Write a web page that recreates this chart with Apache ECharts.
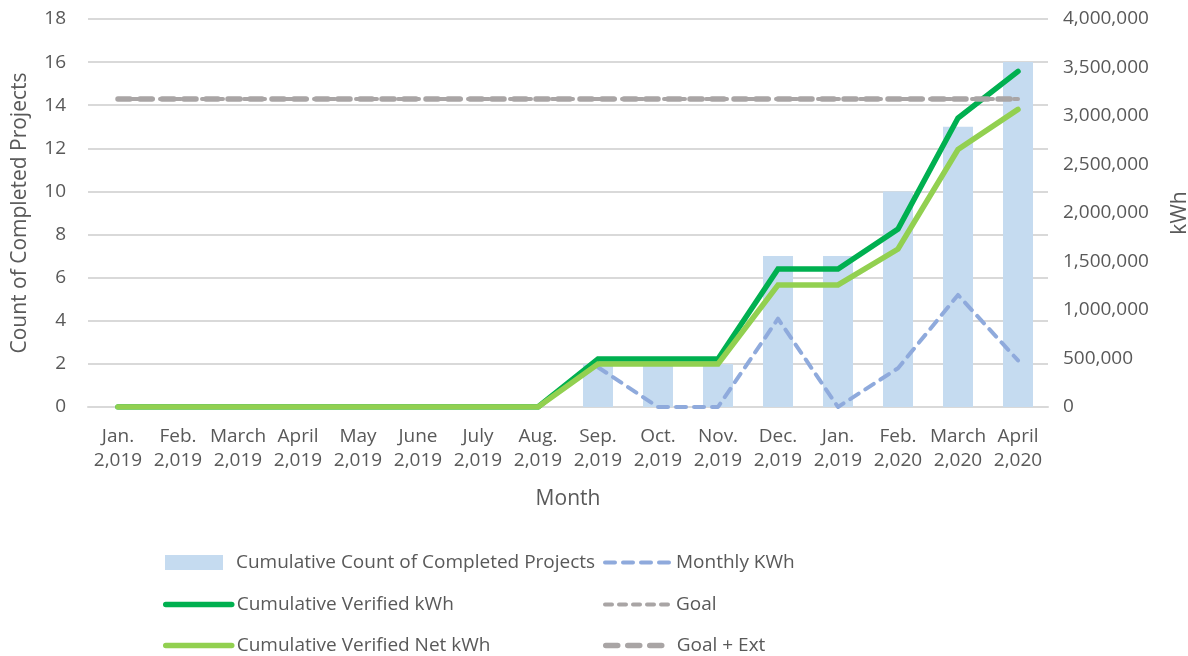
<!DOCTYPE html>
<html>
<head>
<meta charset="utf-8">
<script src="https://cdn.jsdelivr.net/npm/echarts@6/dist/echarts.min.js"></script>
<style>
  html, body { margin: 0; padding: 0; background: #fff; }
  #chart { width: 1188px; height: 656px; }
</style>
</head>
<body>
<div id="chart"></div>
<script>
// Months on the category axis (year written as in the source workbook)
const months = [
  'Jan.\n2,019', 'Feb.\n2,019', 'March\n2,019', 'April\n2,019', 'May\n2,019', 'June\n2,019',
  'July\n2,019', 'Aug.\n2,019', 'Sep.\n2,019', 'Oct.\n2,019', 'Nov.\n2,019', 'Dec.\n2,019',
  'Jan.\n2,019', 'Feb.\n2,020', 'March\n2,020', 'April\n2,020'
];

// Cumulative number of completed projects (left axis)
const completedProjects = [0, 0, 0, 0, 0, 0, 0, 0, 2, 2, 2, 7, 7, 10, 13, 16];

// Monthly kWh (right axis), no values before September
const monthlyKWh = [null, null, null, null, null, null, null, null,
  410000, 0, 0, 910000, 0, 400000, 1155000, 480000];

// Cumulative verified kWh (right axis)
const cumVerified = [0, 0, 0, 0, 0, 0, 0, 0,
  495000, 495000, 495000, 1423000, 1423000, 1835000, 2979000, 3460000];

// Cumulative verified net kWh (right axis)
const cumVerifiedNet = [0, 0, 0, 0, 0, 0, 0, 0,
  443000, 443000, 443000, 1258000, 1258000, 1629000, 2655000, 3068000];

// Goal and goal with extension (right axis)
const goal = months.map(() => 3175000);
const goalExt = months.map(() => 3175000);

const textColor = '#595959';
const fontFamily = '"Open Sans", Lato, sans-serif';

// Stroke styles shared by the series and their legend entries
const styles = {
  monthly: { color: '#8FAADC', width: 4, type: [10, 8], cap: 'round', join: 'round' },
  verified: { color: '#00B050', width: 5.5, cap: 'round', join: 'miter' },
  net: { color: '#92D050', width: 5.5, cap: 'round', join: 'miter' },
  goal: { color: '#A9A5A5', width: 4, type: [7, 7], cap: 'round' },
  goalExt: { color: '#A9A5A5', width: 5.5, type: [12, 10], cap: 'round' }
};

// One legend block per entry, laid out as a two-column table
function legendEntry(name, left, top, lineStyle) {
  const entry = {
    left: left,
    top: top,
    itemWidth: 66,
    itemHeight: 15,
    itemGap: 0,
    padding: 0,
    textStyle: { fontSize: 19, color: textColor, fontFamily: fontFamily },
    data: [name]
  };
  if (lineStyle) {
    // line entries show only their stroke, without a marker
    entry.itemStyle = { opacity: 0 };
    entry.lineStyle = Object.assign({}, lineStyle);
  } else {
    entry.icon = 'rect';
    entry.itemWidth = 58;
    entry.textStyle.padding = [0, 0, 0, 8];
  }
  return entry;
}

const chart = echarts.init(document.getElementById('chart'), null, { renderer: 'canvas' });

chart.setOption({
  animation: false,
  textStyle: { fontFamily: fontFamily, color: textColor },
  grid: { left: 88, right: 140, top: 19, bottom: 249, containLabel: false, outerBoundsMode: 'none' },
  legend: [
    legendEntry('Cumulative Count of Completed Projects', 165, 553, null),
    legendEntry('Cumulative Verified kWh', 163, 595, styles.verified),
    legendEntry('Cumulative Verified Net kWh', 163, 636, styles.net),
    legendEntry('Monthly KWh', 603, 553, styles.monthly),
    legendEntry('Goal', 603, 595, styles.goal),
    legendEntry('Goal + Ext', 603, 636, styles.goalExt)
  ],
  xAxis: {
    type: 'category',
    data: months,
    name: 'Month',
    nameLocation: 'middle',
    nameGap: 82,
    nameTextStyle: { fontSize: 21, color: textColor },
    axisLine: { show: true, lineStyle: { color: '#D9D9D9', width: 2 } },
    axisTick: { show: false },
    axisLabel: { fontSize: 19, color: textColor, lineHeight: 24, margin: 18, interval: 0 }
  },
  yAxis: [
    {
      type: 'value',
      min: 0,
      max: 18,
      interval: 2,
      name: 'Count of Completed Projects',
      nameLocation: 'middle',
      nameGap: 57,
      nameRotate: 90,
      nameTextStyle: { fontSize: 21, color: textColor },
      axisLine: { show: false },
      axisTick: { show: false },
      axisLabel: { fontSize: 19, color: textColor, margin: 22 },
      splitLine: { lineStyle: { color: '#D9D9D9', width: 2 } }
    },
    {
      type: 'value',
      min: 0,
      max: 4000000,
      interval: 500000,
      position: 'right',
      name: 'kWh',
      nameLocation: 'middle',
      nameGap: 122,
      nameRotate: 90,
      nameTextStyle: { fontSize: 21, color: textColor },
      axisLine: { show: false },
      axisTick: { show: false },
      splitLine: { show: false },
      axisLabel: {
        fontSize: 19,
        color: textColor,
        margin: 15,
        formatter: v => v.toLocaleString('en-US')
      }
    }
  ],
  series: [
    {
      name: 'Cumulative Count of Completed Projects',
      type: 'bar',
      yAxisIndex: 0,
      barWidth: 30,
      itemStyle: { color: '#C5DBF0' },
      data: completedProjects,
      z: 1
    },
    {
      name: 'Monthly KWh',
      type: 'line',
      yAxisIndex: 1,
      symbol: 'none',
      connectNulls: false,
      lineStyle: styles.monthly,
      itemStyle: { color: styles.monthly.color },
      data: monthlyKWh,
      z: 3
    },
    {
      name: 'Cumulative Verified kWh',
      type: 'line',
      yAxisIndex: 1,
      symbol: 'none',
      lineStyle: styles.verified,
      itemStyle: { color: styles.verified.color },
      data: cumVerified,
      z: 4
    },
    {
      name: 'Goal',
      type: 'line',
      yAxisIndex: 1,
      symbol: 'none',
      lineStyle: styles.goal,
      itemStyle: { color: styles.goal.color },
      data: goal,
      z: 4
    },
    {
      name: 'Cumulative Verified Net kWh',
      type: 'line',
      yAxisIndex: 1,
      symbol: 'none',
      lineStyle: styles.net,
      itemStyle: { color: styles.net.color },
      data: cumVerifiedNet,
      z: 5
    },
    {
      name: 'Goal + Ext',
      type: 'line',
      yAxisIndex: 1,
      symbol: 'none',
      lineStyle: styles.goalExt,
      itemStyle: { color: styles.goalExt.color },
      data: goalExt,
      z: 5
    }
  ]
});
</script>
</body>
</html>
